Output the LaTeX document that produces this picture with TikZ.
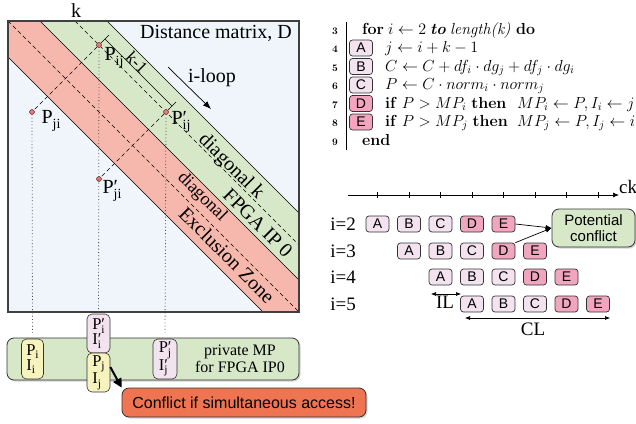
\RequirePackage{fix-cm}
\documentclass[tikz,border=0pt]{standalone}
\usepackage{fontspec}
\newfontfamily\tms{Liberation Serif}
\newfontfamily\hv{Liberation Sans}
\usetikzlibrary{arrows.meta,shadows}
\definecolor{mbg}{HTML}{EFF5FB}
\definecolor{gband}{HTML}{D6E8C8}
\definecolor{rband}{HTML}{F6B8AC}
\definecolor{lpink}{HTML}{F3E3EF}
\definecolor{dpink}{HTML}{F0A6BE}
\definecolor{ylw}{HTML}{F6F3BE}
\definecolor{orng}{HTML}{EF7452}
\definecolor{dotred}{HTML}{D88080}
\newcommand\sbl[1]{\raisebox{-5pt}{\fontsize{14}{14}\selectfont #1}}
\newcommand\sbb[1]{\raisebox{-3.5pt}{\fontsize{11.5}{11.5}\selectfont #1}}
\begin{document}
\begin{tikzpicture}[x=1pt,y=-1pt,
  serif/.style={font=\tms\fontsize{20}{22}\selectfont, inner sep=0pt},
  ptdot/.style={circle, inner sep=0pt, minimum size=5pt, fill=dotred, draw=red!40!black, line width=0.4pt},
  dots/.style={line width=0.8pt, dash pattern=on 0.9pt off 2.4pt, black!70},
  dsh/.style={line width=0.6pt, dash pattern=on 4pt off 3pt},
  abox/.style={draw=black!80, line width=0.7pt, rounded corners=3pt, minimum width=23pt, minimum height=16pt, inner sep=0pt, font=\hv\fontsize{14}{14}\selectfont},
  sbox/.style={draw=black!80, line width=0.6pt, rounded corners=5pt, minimum width=22pt, inner sep=0pt, align=left, font=\tms\fontsize{16.5}{13}\selectfont},
  bigbox/.style={draw=black!80, line width=0.8pt, rounded corners=7pt, inner sep=0pt, drop shadow={shadow xshift=1.5pt, shadow yshift=-1.5pt, opacity=0.35}},
  arr/.style={-{Latex[length=6pt,width=5pt]}, line width=0.7pt},
  alg/.style={anchor=base west, inner sep=0pt, font=\fontsize{16}{18}\selectfont},
  lnum/.style={anchor=base, inner sep=0pt, font=\bfseries\fontsize{10}{10}\selectfont}
]
\useasboundingbox (0,0) rectangle (636,423);

% ---------------- distance matrix ----------------
\fill[mbg] (8,21) rectangle (299,312);
\fill[rband] (8,57) -- (8,21) -- (40,21) -- (299,280) -- (299,312) -- (263,312) -- cycle;
\fill[gband] (40,21) -- (107,21) -- (299,213) -- (299,280) -- cycle;
\draw[line width=0.6pt] (8,57) -- (263,312) (40,21) -- (299,280) (107,21) -- (299,213);
\draw[dsh] (8,21) -- (299,312);
\draw[dsh] (75,21) -- (299,245);
\draw[line width=1.5pt, black!75] (8,21) rectangle (299,312);

\node[serif] (dm) at (216,33.5) {Distance matrix, D};
\node[serif] (klab) at (76,11) {k};

% points
\node[ptdot] (pij) at (99,45) {};
\node[ptdot] (pji) at (32,112) {};
\node[ptdot] (ppij) at (166,112) {};
\node[ptdot] (ppji) at (99,179) {};
\draw[dsh] (pij) -- (pji);
\draw[dsh] (ppij) -- (ppji);

\node[serif] (lpij) at (114,58) {P\sbl{ij}};
\node[serif] (lpji) at (51,121) {P\sbl{ji}};
\node[serif] (lppij) at (181,122) {P\rlap{′}\sbl{ij}};
\node[serif] (lppji) at (112,191) {P\rlap{′}\sbl{ji}};

% k-1 dimension
\coordinate (e1a) at (101,43); \coordinate (e1b) at (109,35);
\coordinate (e2a) at (168,110); \coordinate (e2b) at (176,102);
\coordinate (d1) at (105,39); \coordinate (d2) at (172,106);
\draw[line width=0.6pt] (e1a) -- (e1b) (e2a) -- (e2b) (d1) -- (d2);
\node[serif, rotate=-45, font=\tms\fontsize{17}{17}\selectfont] (km1) at (137,62) {k-1};

% i-loop
\coordinate (il0) at (168,67); \coordinate (il1) at (211,109);
\draw[-{Latex[length=8pt,width=6pt]}, line width=0.7pt] (il0) -- (il1);
\node[serif] (iloop) at (212,78) {i-loop};

% rotated band labels
\node[serif, rotate=-45] (dk) at (231,167) {diagonal k};
\node[serif, rotate=-45] (fpga) at (258,223) {FPGA IP 0};
\node[serif, rotate=-45, font=\tms\fontsize{18}{18}\selectfont] (dg) at (202,197) {diagonal};
\node[serif, rotate=-45] (ez) at (227,255) {Exclusion Zone};

% ---------------- private MP ----------------
\node[bigbox, fill=gband, minimum width=292pt, minimum height=42pt] (mp) at (153,359) {};
\node[serif, align=center, font=\tms\fontsize{16}{17}\selectfont] (mptxt) at (240,359) {private MP\\for FPGA IP0};
\node[sbox, fill=ylw, minimum height=40pt] (bPi) at (32.5,359) {P\sbb{i}\\I\sbb{i}};
\node[sbox, fill=lpink, minimum height=39pt, minimum width=23pt] (bPpi) at (98.5,333.5) {P\rlap{′}\sbb{i}\\I\rlap{′}\sbb{i}};
\node[sbox, fill=ylw, minimum height=39pt, minimum width=23pt] (bPj) at (98.5,372.5) {P\sbb{j}\\I\sbb{j}};
\node[sbox, fill=lpink, minimum height=40pt, minimum width=24pt] (bPpj) at (165,359) {P\rlap{′}\sbb{j}\\I\rlap{′}\sbb{j}};

\draw[dots, shorten <=3pt, shorten >=6pt] (pji) -- (bPi.north);
\draw[dots, shorten <=3pt, shorten >=1pt] (pij) -- (bPpi.north);
\draw[dots, shorten <=3pt, shorten >=6pt] (ppij) -- (bPpj.north);

\node[bigbox, fill=orng, minimum width=244pt, minimum height=29pt, font=\hv\fontsize{16}{16}\selectfont] (cf) at (244,402.5) {Conflict if simultaneous access!};
\draw[line width=2pt, -{Triangle[length=9pt,width=9pt]}] (bPj.25) -- (cf.north west);

% ---------------- algorithm ----------------
\draw[line width=0.6pt] (346,22) -- (346,150);
\foreach \n/\y in {3/34,4/52.5,5/71,6/89.5,7/108,8/126.5,9/145}
  \node[lnum] (n\n) at (335,\y) {\n};
\node[alg] (l3a) at (362,34) {\textbf{for}};
\node[alg] (l3b) at (388,34) {$i\leftarrow 2$};
\node[alg] (l3c) at (430,34) {\textbf{\textit{to}}};
\node[alg] (l3d) at (450,34) {\textit{length(k)}};
\node[alg] (l3e) at (516,34) {\textbf{do}};
\node[alg] (l4) at (385,52.5) {$j\leftarrow i+k-1$};
\node[alg] (l5) at (385,71) {$C\leftarrow C+df_i\cdot dg_j+df_j\cdot dg_i$};
\node[alg] (l6) at (385,89.5) {$P\leftarrow C\cdot norm_i\cdot norm_j$};
\node[alg] (l7a) at (385,108) {\textbf{if} $P>MP_i$ \textbf{then}};
\node[alg] (l7b) at (517,108) {$MP_i\leftarrow P, I_i\leftarrow j$};
\node[alg] (l8a) at (385,126.5) {\textbf{if} $P>MP_j$ \textbf{then}};
\node[alg] (l8b) at (517,126.5) {$MP_j\leftarrow P, I_j\leftarrow i$};
\node[alg] (l9) at (362,145) {\textbf{end}};
\foreach \L/\c/\y in {A/lpink/48,B/lpink/66.5,C/lpink/85,D/dpink/103.5,E/dpink/122}
  \node[abox, fill=\c] (a\L) at (361,\y) {\L};

% ---------------- timeline ----------------
\coordinate (ax0) at (348,195); \coordinate (ax1) at (619,195);
\draw[arr] (ax0) -- (ax1);
\foreach \s in {0,...,7}
  \draw[line width=0.6pt] ({377.5+31.5*\s},192) -- ({377.5+31.5*\s},198);
\node[serif, anchor=base west, font=\tms\fontsize{19}{19}\selectfont] (ck) at (619,193) {ck};

\foreach \r/\y [count=\n from 0] in {2/224,3/251,4/277,5/304} {
  \node[serif, font=\tms\fontsize{19}{19}\selectfont] (row\r) at (343,\y) {i=\r};
  \foreach \L/\c [count=\s from 0] in {A/lpink,B/lpink,C/lpink,D/dpink,E/dpink}
    \node[abox, fill=\c] (t\r\L) at ({377.5+31.5*(\n+\s)},\y) {\L};
}

\node[bigbox, fill=gband, minimum width=83pt, minimum height=38pt, align=center, font=\hv\fontsize{15}{16}\selectfont] (pc) at (593.5,228) {Potential\\conflict};
\draw[arr] (t2E.east) -- (pc.west);
\draw[arr] (t3D.north east) -- (pc.west);

\coordinate (il1a) at (431,294); \coordinate (il1b) at (461,294);
\draw[{Latex[length=5pt,width=4pt]}-{Latex[length=5pt,width=4pt]}, line width=0.6pt] (il1a) -- (il1b);
\node[serif, font=\tms\fontsize{19}{19}\selectfont] (IL) at (445,302) {IL};
\coordinate (cl1a) at (465,318); \coordinate (cl1b) at (610,318);
\draw[{Latex[length=5pt,width=4pt]}-{Latex[length=5pt,width=4pt]}, line width=0.6pt] (cl1a) -- (cl1b);
\node[serif, font=\tms\fontsize{19}{19}\selectfont] (CL) at (533,329) {CL};
\end{tikzpicture}
\end{document}
